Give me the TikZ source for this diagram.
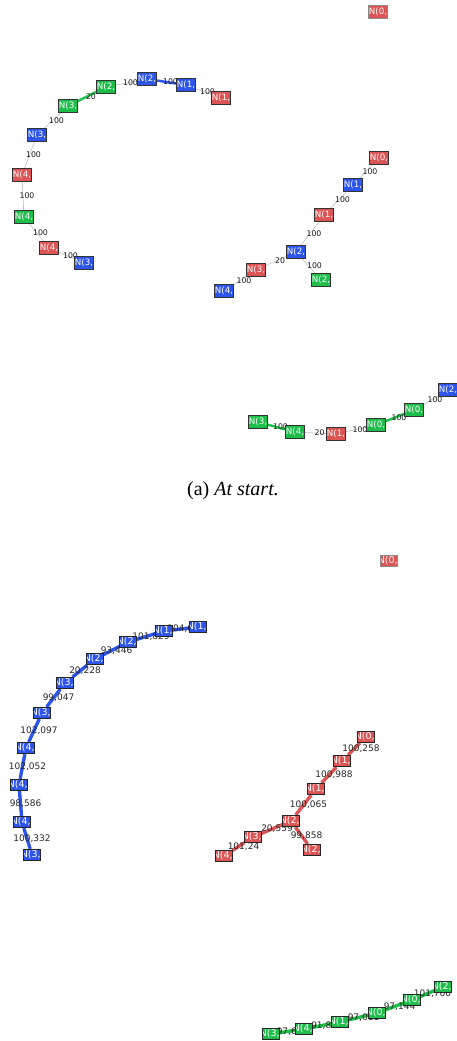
\documentclass[tikz,border=0pt]{standalone}
\usepackage{fontspec}
\setmainfont{Liberation Serif}
\newfontfamily\dejavu{DejaVu Sans}
\usepackage{tikz}
\usetikzlibrary{backgrounds}
\usepackage{xcolor}

\definecolor{nred}{RGB}{221,84,84}
\definecolor{nblue}{RGB}{45,85,235}
\definecolor{ngreen}{RGB}{30,190,75}

\tikzset{
  nbox/.style={draw=black!80, line width=0.7pt, minimum width=19pt, minimum height=12.5pt, inner sep=0pt},
  sbox/.style={draw=black!85, line width=0.7pt, minimum width=16.5pt, minimum height=11.5pt, inner sep=0pt},
  ltag/.style={path picture={\node[draw=none, fill=none, anchor=west, inner sep=0pt, minimum size=0pt, text=white,
      font=\dejavu\fontsize{8.7}{8.7}\selectfont] at ([xshift=0.1pt]path picture bounding box.west) {#1};}},
  ctag/.style={path picture={\node[draw=none, fill=none, inner sep=0pt, minimum size=0pt, text=white,
      font=\dejavu\fontsize{9.5}{9.5}\selectfont] at ([xshift=-1.3pt]path picture bounding box.center) {#1};}},
  link/.style={draw=black!25, line width=0.6pt},
  glink/.style={draw=ngreen, line width=2.4pt},
  blink/.style={draw=nblue, line width=2.4pt},
  bchain/.style={line width=3.4pt},
  elbl/.style={font=\dejavu\fontsize{7.8}{8}\selectfont, text=black!90, inner sep=0pt, xshift=4pt},
  wlbl/.style={font=\dejavu\fontsize{9}{9}\selectfont, text=black!85, inner sep=0pt, xshift=5pt}
}

\begin{document}
\begin{tikzpicture}[x=1pt, y=-1pt]
  \useasboundingbox (0,0) rectangle (457,1041);

  % at start
  \node[nbox, fill=nred, draw=black!45, ltag={N(0,}] (dr0) at (378,12) {};

  \node[nbox, fill=ngreen, ltag={N(2,}] (ag2) at (106,87) {};
  \node[nbox, fill=nblue, ltag={N(2,}] (ab2) at (147,79) {};
  \node[nbox, fill=nblue, ltag={N(1,}] (ab1) at (186,85) {};
  \node[nbox, fill=nred, ltag={N(1,}] (ar1) at (221,98) {};
  \node[nbox, fill=ngreen, ltag={N(3,}] (ag3) at (68,106) {};
  \node[nbox, fill=nblue, ltag={N(3,}] (ab3) at (37,135) {};
  \node[nbox, fill=nred, ltag={N(4,}] (ar4) at (22,175) {};
  \node[nbox, fill=ngreen, ltag={N(4,}] (ag4) at (24,217) {};
  \node[nbox, fill=nred, ltag={N(4,}] (ar4b) at (49,248) {};
  \node[nbox, fill=nblue, ltag={N(3,}] (ab3b) at (84,263) {};

  \node[nbox, fill=nred, ltag={N(0,}] (br0) at (379,158) {};
  \node[nbox, fill=nblue, ltag={N(1,}] (bb1) at (353,185) {};
  \node[nbox, fill=nred, ltag={N(1,}] (br1) at (324,215) {};
  \node[nbox, fill=nblue, ltag={N(2,}] (bb2) at (296,252) {};
  \node[nbox, fill=nred, ltag={N(3,}] (br3) at (256,270) {};
  \node[nbox, fill=nblue, ltag={N(4,}] (bb4) at (224,291) {};
  \node[nbox, fill=ngreen, ltag={N(2,}] (bg2) at (321,280) {};

  \node[nbox, fill=ngreen, ltag={N(3,}] (cg3) at (258,422) {};
  \node[nbox, fill=ngreen, ltag={N(4,}] (cg4) at (295,432) {};
  \node[nbox, fill=nred, ltag={N(1,}] (cr1) at (336,434) {};
  \node[nbox, fill=ngreen, ltag={N(0,}] (cg0) at (376,425) {};
  \node[nbox, fill=ngreen, ltag={N(0,}] (cg0b) at (414,410) {};
  \node[nbox, fill=nblue, ltag={N(2,}] (cb2) at (448,390) {};

  \node (cap) at (233,491) {\fontsize{20}{22}\selectfont (a) \textit{At start.}};

  % later
  \node[sbox, fill=nred, draw=black!45, ctag={N(0,}] (u0) at (389,561) {};

  \node[sbox, fill=nblue, ctag={N(1,}] (pb1a) at (198,627) {};
  \node[sbox, fill=nblue, ctag={N(1,}] (pb1b) at (164,631) {};
  \node[sbox, fill=nblue, ctag={N(2,}] (pb2a) at (128,642) {};
  \node[sbox, fill=nblue, ctag={N(2,}] (pb2b) at (95,659) {};
  \node[sbox, fill=nblue, ctag={N(3,}] (pb3a) at (65,683) {};
  \node[sbox, fill=nblue, ctag={N(3,}] (pb3b) at (42,713) {};
  \node[sbox, fill=nblue, ctag={N(4,}] (pb4a) at (26,748) {};
  \node[sbox, fill=nblue, ctag={N(4,}] (pb4b) at (19,785) {};
  \node[sbox, fill=nblue, ctag={N(4,}] (pb4c) at (22,822) {};
  \node[sbox, fill=nblue, ctag={N(3,}] (pb3c) at (32,855) {};

  \node[sbox, fill=nred, ctag={N(0,}] (qr0) at (366,737) {};
  \node[sbox, fill=nred, ctag={N(1,}] (qr1a) at (342,761) {};
  \node[sbox, fill=nred, ctag={N(1,}] (qr1b) at (316,789) {};
  \node[sbox, fill=nred, ctag={N(2,}] (qr2a) at (291,821) {};
  \node[sbox, fill=nred, ctag={N(3,}] (qr3) at (253,837) {};
  \node[sbox, fill=nred, ctag={N(4,}] (qr4) at (224,856) {};
  \node[sbox, fill=nred, ctag={N(2,}] (qr2b) at (312,850) {};

  \node[sbox, fill=ngreen, ctag={N(3,}] (sg3) at (271,1034) {};
  \node[sbox, fill=ngreen, ctag={N(4,}] (sg4) at (304,1029) {};
  \node[sbox, fill=ngreen, ctag={N(1,}] (sg1) at (340,1022) {};
  \node[sbox, fill=ngreen, ctag={N(0,}] (sg0a) at (377,1013) {};
  \node[sbox, fill=ngreen, ctag={N(0,}] (sg0b) at (412,1000) {};
  \node[sbox, fill=ngreen, ctag={N(2,}] (sg2) at (443,987) {};

  \begin{scope}[on background layer]
    \draw[glink] (ag3) -- node[elbl] {20} (ag2);
    \draw[link] (ag2) -- node[elbl] {100} (ab2);
    \draw[blink] (ab2) -- node[elbl] {100} (ab1);
    \draw[link] (ab1) -- node[elbl] {100} (ar1);
    \draw[link] (ag3) -- node[elbl] {100} (ab3);
    \draw[link] (ab3) -- node[elbl] {100} (ar4);
    \draw[link] (ar4) -- node[elbl] {100} (ag4);
    \draw[link] (ag4) -- node[elbl] {100} (ar4b);
    \draw[link] (ar4b) -- node[elbl] {100} (ab3b);

    \draw[link] (br0) -- node[elbl] {100} (bb1);
    \draw[link] (bb1) -- node[elbl] {100} (br1);
    \draw[link] (br1) -- node[elbl] {100} (bb2);
    \draw[link] (bb2) -- node[elbl] {20} (br3);
    \draw[link] (bb2) -- node[elbl, xshift=2pt] {100} (bg2);
    \draw[link] (br3) -- node[elbl] {100} (bb4);

    \draw[glink] (cg3) -- node[elbl] {100} (cg4);
    \draw[link] (cg4) -- node[elbl] {20} (cr1);
    \draw[link] (cr1) -- node[elbl] {100} (cg0);
    \draw[glink] (cg0) -- node[elbl] {100} (cg0b);
    \draw[link] (cg0b) -- node[elbl] {100} (cb2);

    \draw[bchain, nblue] (pb1a) -- node[wlbl] {104,617} (pb1b)
      -- node[wlbl] {101,829} (pb2a) -- node[wlbl] {93,446} (pb2b)
      -- node[wlbl] {20,228} (pb3a) -- node[wlbl] {99,047} (pb3b)
      -- node[wlbl] {102,097} (pb4a) -- node[wlbl] {102,052} (pb4b)
      -- node[wlbl] {98,586} (pb4c) -- node[wlbl] {100,332} (pb3c);

    \draw[bchain, nred] (qr0) -- node[wlbl, xshift=2pt] {100,258} (qr1a)
      -- node[wlbl] {100,988} (qr1b) -- node[wlbl] {100,065} (qr2a)
      -- node[wlbl] {20,559} (qr3) -- node[wlbl] {101,24} (qr4);
    \draw[bchain, nred] (qr2a) -- node[wlbl] {99,858} (qr2b);

    \draw[bchain, ngreen] (sg3) -- node[wlbl] {97,648} (sg4)
      -- node[wlbl] {91,803} (sg1) -- node[wlbl] {97,011} (sg0a)
      -- node[wlbl] {97,144} (sg0b) -- node[wlbl] {101,760} (sg2);
  \end{scope}
\end{tikzpicture}
\end{document}
